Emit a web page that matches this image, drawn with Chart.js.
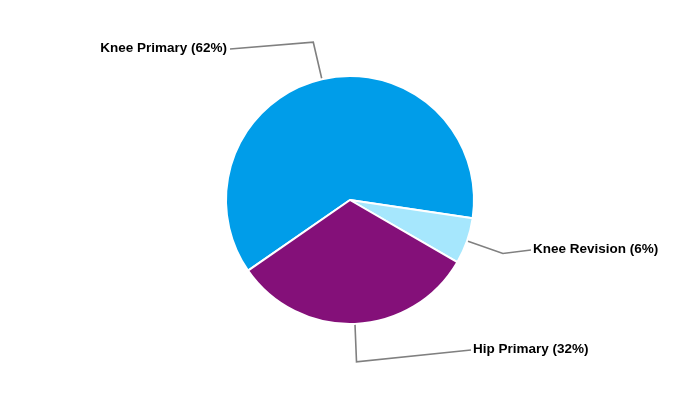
<!DOCTYPE html>
<html>
<head>
<meta charset="utf-8">
<script src="https://cdn.jsdelivr.net/npm/chart.js@4"></script>
<style>
html,body{margin:0;padding:0;background:#fff;}
#wrap{width:700px;height:400px;}
</style>
</head>
<body>
<div id="wrap"><canvas id="c" width="700" height="400"></canvas></div>
<script>
const categories = ["Knee Primary", "Knee Revision", "Hip Primary"];
const values = [62, 6, 32];
const colors = ["#009DE9", "#A6E7FD", "#841079"];

// label text anchor placement (presentation only)
const labelPlacement = [
  {x: 230, y: 49, align: "right"},
  {x: 531, y: 250, align: "left"},
  {x: 471, y: 350, align: "left"}
];

const leaderPlugin = {
  id: "leaders",
  afterDatasetsDraw(chart) {
    const ctx = chart.ctx;
    const meta = chart.getDatasetMeta(0);
    const total = values.reduce((a, b) => a + b, 0);
    ctx.save();
    meta.data.forEach((arc, i) => {
      const p = arc.getProps(["x", "y", "startAngle", "endAngle", "outerRadius"], true);
      const mid = (p.startAngle + p.endAngle) / 2;
      const r0 = p.outerRadius + 1;
      const r1 = p.outerRadius + 38;
      const sx = p.x + Math.cos(mid) * r0, sy = p.y + Math.sin(mid) * r0;
      const ex = p.x + Math.cos(mid) * r1, ey = p.y + Math.sin(mid) * r1;
      const lp = labelPlacement[i];
      ctx.beginPath();
      ctx.moveTo(sx, sy);
      ctx.lineTo(ex, ey);
      ctx.lineTo(lp.x, lp.y);
      ctx.strokeStyle = "#808080";
      ctx.lineWidth = 1.6;
      ctx.stroke();
      const pct = Math.round(values[i] / total * 100);
      ctx.font = 'bold 13.5px "Liberation Sans", Arial, sans-serif';
      ctx.fillStyle = "#000";
      ctx.textBaseline = "middle";
      ctx.textAlign = lp.align;
      const tx = lp.align === "right" ? lp.x - 3 : lp.x + 2;
      ctx.fillText(categories[i] + " (" + pct + "%)", tx, lp.y - 1);
    });
    ctx.restore();
  }
};

new Chart(document.getElementById("c"), {
  type: "pie",
  data: {
    labels: categories,
    datasets: [{
      data: values,
      backgroundColor: colors,
      borderColor: "#ffffff",
      borderWidth: 2
    }]
  },
  options: {
    responsive: false,
    animation: false,
    rotation: 235.3,
    radius: 124,
    layout: {padding: 0},
    plugins: {legend: {display: false}, tooltip: {enabled: false}}
  },
  plugins: [leaderPlugin]
});
</script>
</body>
</html>
